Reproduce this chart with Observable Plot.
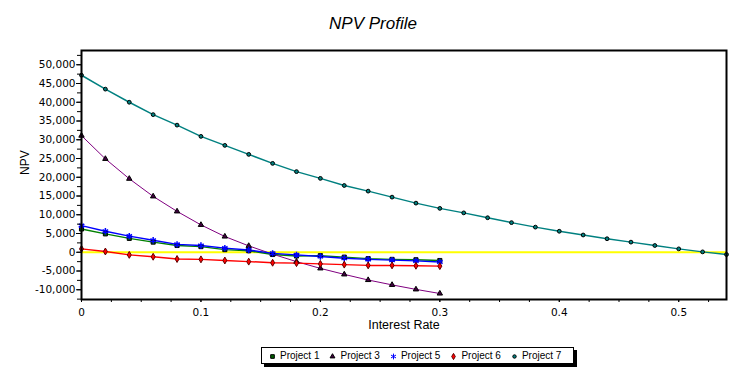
<!DOCTYPE html>
<html>
<head>
<meta charset="utf-8">
<script src="https://cdn.jsdelivr.net/npm/d3@7"></script>
<script src="https://cdn.jsdelivr.net/npm/@observablehq/plot@0.6"></script>
<style>
  html, body { margin: 0; padding: 0; background: white; }
  #wrap { position: relative; width: 743px; height: 377px; overflow: hidden; }
  #legend { position: absolute; left: 261px; top: 347px; width: 311px; height: 15px;
    border: 1px solid black; box-shadow: 3px 3px 0 black; background: white;
    font: 10px "Liberation Sans", Arial, sans-serif; display: flex; align-items: center; }
  #legend .item { display: flex; align-items: center; margin-left: 6px; margin-right: 3px; }
  #legend svg { margin-right: 4px; }
</style>
</head>
<body>
<div id="wrap"><div id="chart"></div><div id="legend"></div></div>
<script>
const projects = ["Project 1", "Project 3", "Project 5", "Project 6", "Project 7"];
const rates = [0, 0.02, 0.04, 0.06, 0.08, 0.10, 0.12, 0.14, 0.16, 0.18, 0.20, 0.22, 0.24, 0.26, 0.28, 0.30];
const proj1 = [6200, 4900, 3700, 2700, 1800, 1500, 700, 400, -600, -1000, -900, -1300, -1700, -1900, -2000, -2200];
const proj3 = [31100, 24900, 19600, 14900, 10900, 7300, 4200, 1700, -500, -2500, -4300, -5900, -7400, -8700, -9900, -11000];
const proj5 = [7100, 5600, 4300, 3200, 2100, 1800, 1100, 600, -300, -700, -1150, -1600, -1900, -2100, -2300, -2600];
const proj6 = [900, 200, -700, -1200, -1800, -1900, -2200, -2500, -2800, -2900, -3100, -3300, -3500, -3500, -3600, -3700];
const rates7 = [0, 0.02, 0.04, 0.06, 0.08, 0.10, 0.12, 0.14, 0.16, 0.18, 0.20, 0.22, 0.24, 0.26, 0.28, 0.30, 0.32, 0.34, 0.36, 0.38, 0.40, 0.42, 0.44, 0.46, 0.48, 0.50, 0.52, 0.54];
const proj7 = [47200, 43500, 40000, 36700, 33900, 30900, 28500, 26100, 23700, 21500, 19700, 17800, 16300, 14700, 13100, 11700, 10500, 9200, 7900, 6700, 5600, 4600, 3600, 2700, 1800, 900, 100, -600];
const yMajorTicks = [-10000, -5000, 0, 5000, 10000, 15000, 20000, 25000, 30000, 35000, 40000, 45000, 50000];
const xMajorTicks = [0, 0.1, 0.2, 0.3, 0.4, 0.5];

const series = [
  {name: "Project 1", xs: rates, ys: proj1, line: "#008000", symbol: "square", fill: "#006000", stroke: "black", r: 2.3, sw: 1.5},
  {name: "Project 3", xs: rates, ys: proj3, line: "#800080", symbol: "triangle", fill: "#400040", stroke: "black", r: 2, sw: 1},
  {name: "Project 5", xs: rates, ys: proj5, line: "#0000ff", symbol: "asterisk", fill: "none", stroke: "#0000ff", r: 3, sw: 1.5},
  {name: "Project 6", xs: rates, ys: proj6, line: "#ff0000", symbol: "diamond", fill: "#ff0000", stroke: "#600000", r: 2.1, sw: 1.5},
  {name: "Project 7", xs: rates7, ys: proj7, line: "#008080", symbol: "circle", fill: "#008080", stroke: "black", r: 1.9, sw: 1.5}
];
series.forEach(s => s.data = s.xs.map((x, i) => ({rate: x, npv: s.ys[i], project: s.name})));

const yMinorTicks = d3.range(-12500, 53800, 2500);
const xMinorTicks = d3.range(0, 0.5401, 0.025);
const fmt = d => d.toLocaleString("en-US");

const marks = [
  Plot.ruleY([0], {stroke: "#ffff00", strokeWidth: 2})
];
for (const s of series) {
  marks.push(Plot.line(s.data, {x: "rate", y: "npv", stroke: s.line, strokeWidth: s.sw}));
}
for (const s of series) {
  marks.push(Plot.dot(s.data, {x: "rate", y: "npv", symbol: () => s.symbol, r: s.r, fill: s.fill, stroke: s.stroke, strokeWidth: s.symbol === "asterisk" ? 1.5 : 1}));
}
marks.push(
  Plot.frame({stroke: "black", strokeWidth: 2}),
  Plot.axisY({ticks: yMinorTicks, tickSize: 4, tickFormat: () => "", label: null}),
  Plot.axisY({ticks: yMajorTicks, tickSize: 5, tickPadding: 1, tickFormat: fmt, label: null,
    fontSize: 10.5, fontFamily: "DejaVu Sans"}),
  Plot.axisX({ticks: xMinorTicks, tickSize: 3, tickFormat: () => "", label: null}),
  Plot.axisX({ticks: xMajorTicks, tickSize: 3, tickPadding: 6, tickFormat: d => String(d), label: null,
    fontSize: 10.5, fontFamily: "DejaVu Sans"}),
  Plot.text(["NPV"], {frameAnchor: "left", dx: -56, rotate: -90, text: d => d, fontSize: 12}),
  Plot.text(["Interest Rate"], {frameAnchor: "bottom", dy: 29, text: d => d, fontSize: 12.5}),
  Plot.text(["NPV Profile"], {frameAnchor: "top", dy: -34, dx: -31, text: d => d, fontSize: 17, fontStyle: "italic"})
);

const chart = Plot.plot({
  width: 743, height: 377,
  marginLeft: 81, marginRight: 17, marginTop: 50, marginBottom: 78,
  x: {domain: [0, 0.54]},
  y: {domain: [-12600, 53800]},
  style: {fontFamily: "'Liberation Sans', Arial, sans-serif", fontSize: "11px", background: "white", color: "black", overflow: "visible"},
  marks
});
document.getElementById("chart").appendChild(chart);

// legend
const legend = document.getElementById("legend");
for (const s of series) {
  const item = document.createElement("div");
  item.className = "item";
  const sym = Plot.plot({
    width: 8, height: 8, margin: 0, x: {domain: [0, 1], axis: null}, y: {domain: [0, 1], axis: null},
    style: {background: "transparent", overflow: "visible"},
    marks: [Plot.dot([0], {x: () => 0.5, y: () => 0.5, symbol: () => s.symbol, r: s.r * 0.9, fill: s.fill, stroke: s.stroke, strokeWidth: 1})]
  });
  item.appendChild(sym);
  const t = document.createElement("span");
  t.textContent = s.name;
  item.appendChild(t);
  legend.appendChild(item);
}
</script>
</body>
</html>
